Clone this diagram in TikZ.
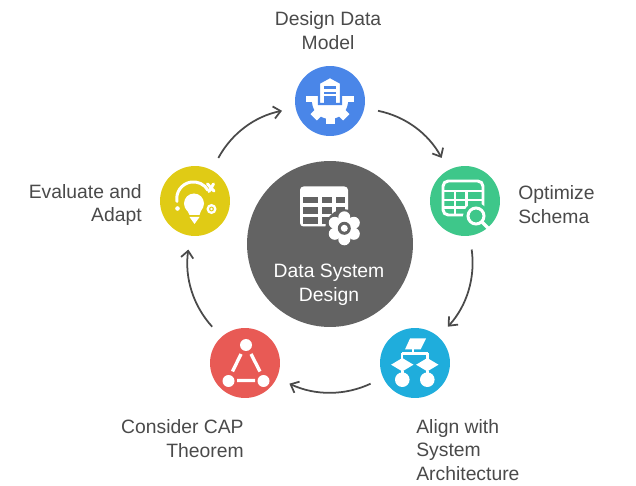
\documentclass[tikz,border=0pt]{standalone}
\usepackage{fontspec}
\setmainfont{Liberation Sans}
\usetikzlibrary{arrows.meta}
\definecolor{designblue}{HTML}{4A86E8}
\definecolor{schemagreen}{HTML}{3EC78A}
\definecolor{aligncyan}{HTML}{1FADDC}
\definecolor{capred}{HTML}{E85A55}
\definecolor{adaptyellow}{HTML}{E0CB15}
\definecolor{hubgray}{HTML}{636363}
\definecolor{labelgray}{HTML}{4A4A4A}
\tikzset{
    step circle/.style={circle,minimum size=1.4cm,inner sep=0,outer sep=0.28cm,fill=#1},
    step arrow/.style={draw=labelgray,line width=1pt,-{Straight Barb[length=4pt,width=7pt]},bend left=25,looseness=0.9},
    step label/.style={text=labelgray,inner sep=0,font=\fontsize{11pt}{13.6pt}\selectfont},
    icon line/.style={draw=white,line width=1.7pt},
}
\begin{document}
\begin{tikzpicture}[x=0.02cm,y=-0.02cm]
    \useasboundingbox (0,0) rectangle (636,486);

    \foreach \name/\x/\y/\col in {design/330/101/designblue,schema/465/201/schemagreen,align/415/363/aligncyan,cap/245/363/capred,adapt/195/201/adaptyellow}
    { \node[step circle=\col] (\name) at (\x,\y) {}; }
    \node[circle,minimum size=3.32cm,inner sep=0,fill=hubgray] (hub) at (330,244) {};

    \foreach \a/\b in {design/schema,schema/align,align/cap,cap/adapt,adapt/design}
    { \draw[step arrow] (\a) to (\b); }

    \node[step label,align=center] (designtext) at (328,31) {Design Data\\Model};
    \node[step label,align=left,anchor=west] (schematext) at (518,204.5) {Optimize\\Schema};
    \node[step label,align=left,anchor=west] (aligntext) at (416,450) {Align with\\System\\Architecture};
    \node[step label,align=right,anchor=east] (captext) at (244,438.5) {Consider CAP\\Theorem};
    \node[step label,align=right,anchor=east] (adapttext) at (142,205) {Evaluate and\\Adapt};
    \node[step label,align=center,text=white] (hubtext) at (329,285) {Data System\\Design};

    % hub icon
    \begin{scope}[shift={(hub)}]
        \fill[white,rounded corners=2pt] (-30,-57.5) rectangle (18,-17.5);
        \foreach \cx/\w in {-26.7/14.3,-8.3/10,5.7/9.3}
        { \foreach \cy in {-47.3,-36.7,-26.7}
            { \fill[hubgray] (\cx,\cy) rectangle ++(\w,6.5); } }
        \fill[hubgray] (14.3,-15.7) circle (19);
        \foreach \r in {0,60,...,300}
        { \fill[white] (14.3,-15.7) ++(\r+30:11) circle (6); }
        \fill[white] (14.3,-15.7) circle (11);
        \fill[hubgray] (14.3,-15.7) circle (6.5);
        \fill[white] (14.3,-15.7) circle (3.5);
    \end{scope}

    % design icon
    \begin{scope}[shift={(design)}]
        \fill[white] (-24,-4.5) rectangle (24,1.5);
        \fill[white] (18,0) arc (0:180:18) -- cycle;
        \foreach \r in {-45,0,45}
        { \fill[white,rotate=\r] (-4.5,14) rectangle (4.5,23); }
        \fill[white,draw=designblue,line width=1.2pt] (-11,3) -- (-11,-18) -- (0,-24) -- (11,-18) -- (11,3) -- cycle;
        \fill[designblue] (-6,-15) rectangle (6,3);
        \fill[white] (-6,-11.5) rectangle (6,-9);
        \fill[white] (-6,-7) rectangle (6,-4.5);
    \end{scope}

    % schema icon
    \begin{scope}[shift={(schema)}]
        \draw[icon line,rounded corners=3pt] (-22,-20) rectangle (18,14);
        \draw[icon line] (-22,-10) -- (18,-10) (-22,-1) -- (18,-1) (-22,6.7) -- (4,6.7);
        \foreach \cx in {-10,1.7}
        { \draw[icon line] (\cx,-10) -- (\cx,14); }
        \fill[schemagreen] (11,15) circle (13);
        \draw[white,line width=1.7pt] (11,15) circle (8);
        \draw[white,line width=1.9pt,line cap=round] (17,21) -- (23,27);
    \end{scope}

    % align icon
    \begin{scope}[shift={(align)}]
        \fill[white] (-5,-24.5) -- (11,-24.5) -- (5.5,-13.5) -- (-10,-13.5) -- cycle;
        \draw[icon line] (-2,-13.5) -- (-2,-9.5) (-13,-9.5) -- (12.5,-9.5) (-13,-9.5) -- (-13,0) (12.5,-9.5) -- (12.5,0);
        \foreach \cx in {-12.7,12.3}
        {
            \fill[white] (\cx-11.2,1.7) -- (\cx,-5) -- (\cx+11.2,1.7) -- (\cx,8.4) -- cycle;
            \draw[icon line] (\cx,8) -- (\cx,12);
            \fill[white] (\cx,16.7) circle (7.3);
        }
    \end{scope}

    % cap icon
    \begin{scope}[shift={(cap)}]
        \foreach \cx/\cy in {1/-18,-16.5/18,18.5/18}
        { \fill[white] (\cx,\cy) circle (6); }
        \draw[white,line width=1.9pt] (-4,-9) -- (-12.5,8.5) (6,-9) -- (15,8.5) (-8,17.5) -- (10,17.5);
    \end{scope}

    % adapt icon
    \begin{scope}[shift={(adapt)}]
        \draw[icon line,line cap=round] (-18,0.5) arc (170:330:16.7);
        \draw[icon line,line cap=round] (12.5,-17) -- (19,-10) (18.5,-17) -- (14,-9.5);
        \fill[white] (-17.5,7.5) circle (2.3);
        \fill[white] (-1,2.5) circle (10);
        \fill[white] (-9,7) -- (7,7) -- (4.5,14) -- (-5.5,14) -- cycle;
        \fill[white] (-5.5,16) -- (4.5,16) -- (-0.5,23) -- cycle;
        \draw[white,line width=1.3pt] (16.5,8) circle (3.8);
        \fill[white] (16.5,8) circle (1.3);
    \end{scope}
\end{tikzpicture}
\end{document}
